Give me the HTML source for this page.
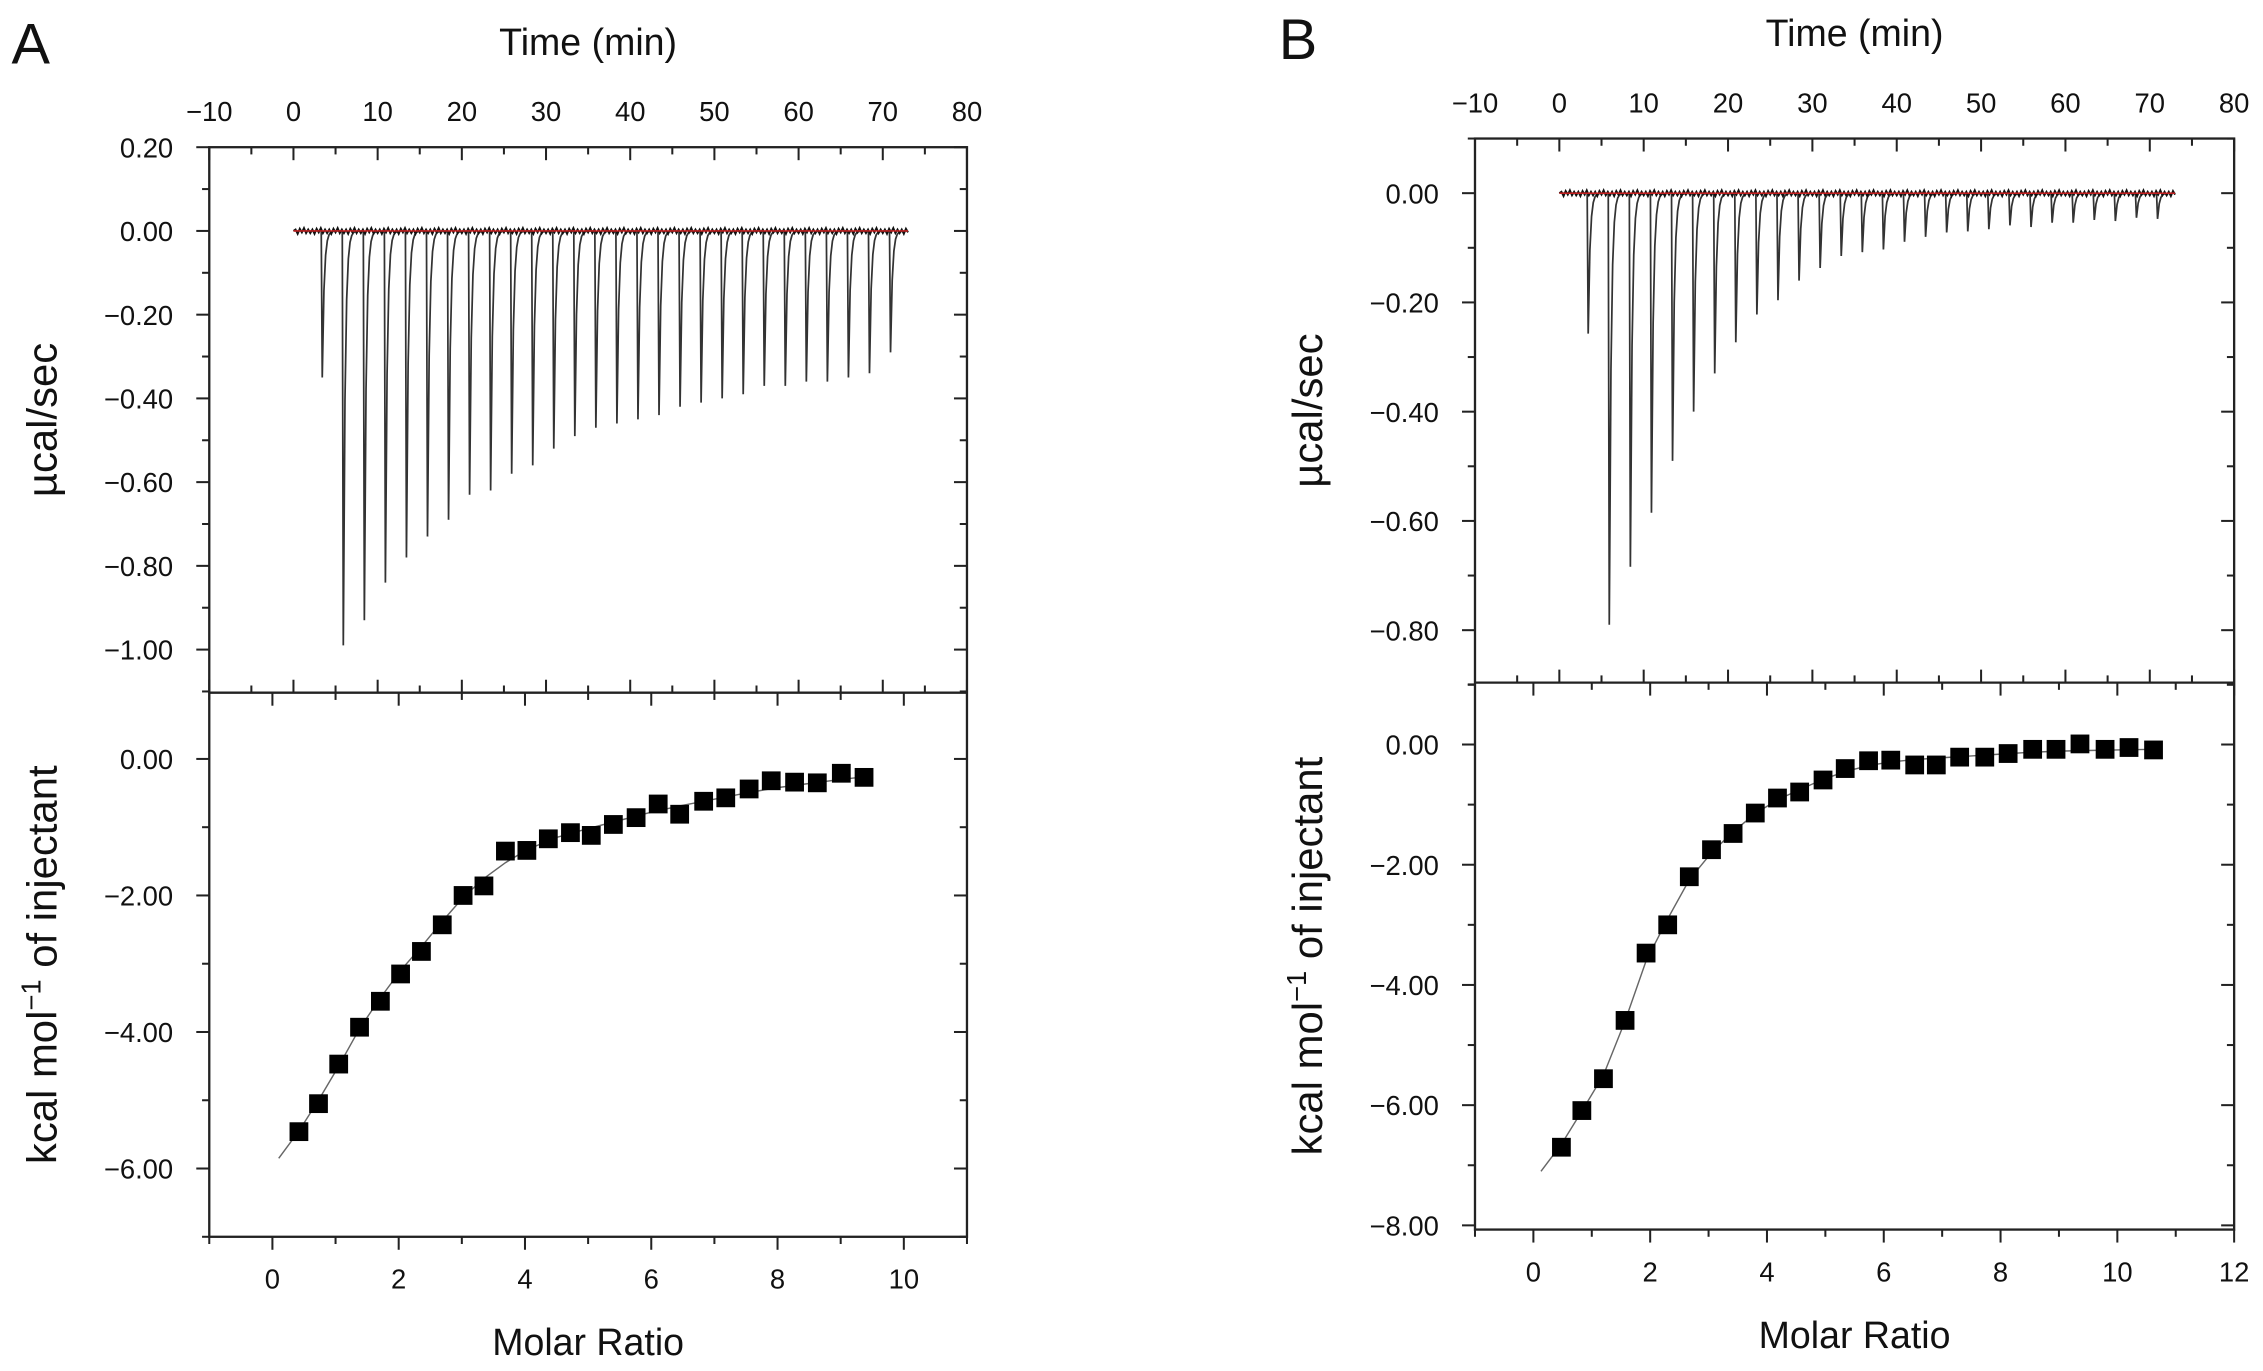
<!DOCTYPE html>
<html><head><meta charset="utf-8"><style>
html,body{margin:0;padding:0;background:#fff;}
svg{display:block;}
text{font-family:"Liberation Sans",Arial,sans-serif;fill:#111;}
</style></head><body>
<svg id="fig" width="2263" height="1371" viewBox="0 0 1568 950" preserveAspectRatio="none" xmlns="http://www.w3.org/2000/svg">
<text x="8" y="44" font-size="40">A</text>
<text x="886" y="41" font-size="40">B</text>
</svg>
<script>
// ---------- DATA ----------
const A_injTimes = [3.3,5.8,8.3,10.8,13.3,15.8,18.3,20.8,23.3,25.8,28.3,30.8,33.3,35.8,38.3,40.8,43.3,45.8,48.3,50.8,53.3,55.8,58.3,60.8,63.3,65.8,68.3,70.8];
const A_peaks = [-0.35,-0.99,-0.93,-0.84,-0.78,-0.73,-0.69,-0.63,-0.62,-0.58,-0.56,-0.52,-0.49,-0.47,-0.46,-0.45,-0.44,-0.42,-0.41,-0.40,-0.39,-0.37,-0.37,-0.36,-0.36,-0.35,-0.34,-0.29];
const A_ratio = [0.42,0.73,1.05,1.38,1.71,2.03,2.36,2.69,3.02,3.35,3.69,4.03,4.37,4.72,5.05,5.40,5.76,6.11,6.45,6.83,7.18,7.55,7.90,8.27,8.63,9.01,9.37];
const A_heat = [-5.46,-5.05,-4.47,-3.93,-3.55,-3.15,-2.82,-2.43,-2.0,-1.86,-1.35,-1.34,-1.17,-1.08,-1.12,-0.96,-0.86,-0.66,-0.81,-0.62,-0.57,-0.44,-0.32,-0.34,-0.35,-0.21,-0.27];
const A_fitX = [0.1,0.42,0.73,1.05,1.38,1.71,2.03,2.36,2.69,3.02,3.35,3.69,4.03,4.5,5,5.5,6,6.5,7,7.5,8,8.5,9,9.4];
const A_fitY = [-5.85,-5.45,-5.0,-4.5,-3.95,-3.5,-3.1,-2.75,-2.38,-2.03,-1.75,-1.52,-1.33,-1.15,-1.02,-0.90,-0.78,-0.68,-0.59,-0.50,-0.42,-0.36,-0.30,-0.26];

const B_injTimes = [3.3,5.8,8.3,10.8,13.3,15.8,18.3,20.8,23.3,25.8,28.3,30.8,33.3,35.8,38.3,40.8,43.3,45.8,48.3,50.8,53.3,55.8,58.3,60.8,63.3,65.8,68.3,70.8];
const B_peaks = [-0.257,-0.79,-0.684,-0.585,-0.49,-0.40,-0.33,-0.273,-0.222,-0.196,-0.16,-0.137,-0.115,-0.108,-0.103,-0.089,-0.08,-0.072,-0.07,-0.066,-0.059,-0.062,-0.054,-0.054,-0.049,-0.051,-0.045,-0.047];
const B_ratio = [0.48,0.83,1.20,1.57,1.93,2.30,2.67,3.05,3.42,3.80,4.18,4.56,4.96,5.34,5.74,6.12,6.53,6.90,7.30,7.73,8.13,8.55,8.95,9.36,9.79,10.2,10.62];
const B_heat = [-6.70,-6.09,-5.56,-4.59,-3.47,-3.0,-2.20,-1.75,-1.48,-1.14,-0.89,-0.79,-0.59,-0.40,-0.27,-0.26,-0.34,-0.34,-0.21,-0.21,-0.15,-0.08,-0.08,0.01,-0.08,-0.05,-0.09];
const B_fitX = [0.13,0.48,0.83,1.2,1.57,1.93,2.3,2.67,3.05,3.42,3.8,4.18,4.56,4.96,5.34,5.74,6.12,6.53,7,7.5,8,8.5,9,9.5,10,10.62];
const B_fitY = [-7.1,-6.65,-6.1,-5.5,-4.6,-3.6,-2.9,-2.25,-1.8,-1.45,-1.15,-0.92,-0.75,-0.58,-0.45,-0.35,-0.29,-0.25,-0.22,-0.19,-0.16,-0.13,-0.11,-0.10,-0.09,-0.08];

const timeTicks = [-10,0,10,20,30,40,50,60,70,80];
const A_powerTicks = [0.20,0.00,-0.20,-0.40,-0.60,-0.80,-1.00];
const B_powerTicks = [0.00,-0.20,-0.40,-0.60,-0.80];
const A_heatTicks = [0,-2,-4,-6];
const B_heatTicks = [0,-2,-4,-6,-8];
const A_ratioTicks = [0,2,4,6,8,10];
const B_ratioTicks = [0,2,4,6,8,10,12];

// ---------- DRAW ----------
const NS = "http://www.w3.org/2000/svg";
const svg = document.getElementById('fig');
function mk(tag, attrs, parent){ const e=document.createElementNS(NS,tag); for(const k in attrs) e.setAttribute(k,attrs[k]); (parent||svg).appendChild(e); return e; }
function lin(d0,d1,r0,r1){ return v => r0 + (v-d0)/(d1-d0)*(r1-r0); }
function fmt(v){ const s=Math.abs(v).toFixed(2); return (v<-1e-9?'\u2212':'')+s; }

function panel(p){
  const g = mk('g',{});
  
  
  const L=p.L,R=p.R,T=p.T,M=p.M,B=p.B;
  const tx = lin(-10,80,L,R);
  const py = lin(p.pMax,p.pMin,T,M);
  const mx = lin(-1,p.mMax,L,R);
  const hy = lin(p.hMax,p.hMin,M,B);
  const fr = mk('rect',{x:L,y:T,width:R-L,height:B-T,fill:'none',stroke:'#222','stroke-width':1.6},g);
  
  
  mk('line',{x1:L,y1:M,x2:R,y2:M,stroke:'#222','stroke-width':1.6},g);
  for(let t=-10;t<=80;t+=5){
    const x=tx(t), len=(t%10===0)?9:5;
    mk('line',{x1:x,y1:T,x2:x,y2:T+len,stroke:'#222','stroke-width':1.4},g);
    mk('line',{x1:x,y1:M,x2:x,y2:M-len,stroke:'#222','stroke-width':1.4},g);
  }
  timeTicks.forEach(t=>{
    const e=mk('text',{x:tx(t),y:T-18,'font-size':19,'text-anchor':'middle'},g); e.textContent=(t<0?'\u2212':'')+Math.abs(t);
     
  });
  for(let k=Math.round(p.pMax*10);k>=Math.round(p.pMin*10);k--){
    const v=k/10, y=py(v), len=(k%2===0)?9:5;
    mk('line',{x1:L-len,y1:y,x2:L,y2:y,stroke:'#222','stroke-width':1.4},g);
    mk('line',{x1:R-len,y1:y,x2:R,y2:y,stroke:'#222','stroke-width':1.4},g);
  }
  p.pTicks.forEach(v=>{
    const e=mk('text',{x:L-25,y:py(v)+7,'font-size':19,'text-anchor':'end'},g); e.textContent=fmt(v);
     
  });
  for(let v=Math.ceil(p.hMin);v<=Math.floor(p.hMax);v++){
    const y=hy(v), len=(v%2===0)?9:5;
    mk('line',{x1:L-len,y1:y,x2:L,y2:y,stroke:'#222','stroke-width':1.4},g);
    mk('line',{x1:R-len,y1:y,x2:R,y2:y,stroke:'#222','stroke-width':1.4},g);
  }
  p.hTicks.forEach(v=>{
    const e=mk('text',{x:L-25,y:hy(v)+7,'font-size':19,'text-anchor':'end'},g); e.textContent=fmt(v);
     
  });
  for(let r=-1;r<=p.mMax;r++){
    const x=mx(r), len=(r%2===0)?9:5;
    mk('line',{x1:x,y1:M,x2:x,y2:M+len,stroke:'#222','stroke-width':1.4},g);
    mk('line',{x1:x,y1:B,x2:x,y2:B+len,stroke:'#222','stroke-width':1.4},g);
  }
  p.rTicks.forEach(r=>{
    const e=mk('text',{x:mx(r),y:B+36,'font-size':19,'text-anchor':'middle'},g); e.textContent=r;
     
  });
  const cx=(L+R)/2;
  let e=mk('text',{x:cx,y:T-64,'font-size':26,'text-anchor':'middle'},g); e.textContent='Time (min)';
   
  e=mk('text',{x:cx,y:B+82,'font-size':26,'text-anchor':'middle'},g); e.textContent='Molar Ratio';
   
  const yl1=(T+M)/2, yl2=(M+B)/2, ax=L-106;
  e=mk('text',{x:ax,y:yl1,'font-size':29,'text-anchor':'middle',transform:`rotate(-90 ${ax} ${yl1})`},g); e.textContent='\u00b5cal/sec';
   
  e=mk('text',{x:ax,y:yl2,'font-size':29,'text-anchor':'middle',transform:`rotate(-90 ${ax} ${yl2})`},g);
  e.innerHTML='kcal mol<tspan font-size="19" dy="-11">\u22121</tspan><tspan dy="11"> of injectant</tspan>';
   
  let d=`M${tx(0)},${py(0)}`;
  p.times.forEach((t,i)=>{
    const pk=p.peaks[i];
    d+=` L${tx(t)},${py(0)} L${tx(t+0.12)},${py(pk)}`;
    for(let s=1;s<=8;s++){ const tt=t+0.12+s*0.2; d+=` L${tx(tt)},${py(pk*Math.exp(-s*0.9))}`; }
  });
  d+=` L${tx(p.tEnd)},${py(0)}`;
  const thermo=mk('path',{d:d,fill:'none',stroke:'#333','stroke-width':1.2},g);
   
  // noisy baseline (decorative zigzag)
  let nd=`M${tx(0)},${py(0)}`;
  const wig=[1.5,-1,2,-1.5,1,-2,1.5,-1];
  for(let k=1,t=0.25;t<=p.tEnd;t+=0.25,k++){ nd+=` L${tx(t)},${py(0)+wig[k%8]}`; }
  const bl=mk('path',{d:nd,fill:'none',stroke:'#111','stroke-width':1.3},g);
   
  const red=mk('line',{x1:tx(0),y1:py(0),x2:tx(p.tEnd),y2:py(0),stroke:'#d22','stroke-width':0.9},g);
   
  const fd=p.fitX.map((x,i)=>(i?'L':'M')+mx(x)+','+hy(p.fitY[i])).join(' ');
  const fit=mk('path',{d:fd,fill:'none',stroke:'#666','stroke-width':1},g);
   
  p.ratio.forEach((r,i)=>{
    const s=mk('rect',{x:mx(r)-6.5,y:hy(p.heat[i])-6.5,width:13,height:13,fill:'#000'},g);
     
  });
}
panel({id:'a',L:145,R:670,T:102,M:480,B:857,pMax:0.2,pMin:-1.103,hMax:0.97,hMin:-7.0,mMax:11,
  pTicks:A_powerTicks,hTicks:A_heatTicks,rTicks:A_ratioTicks,times:A_injTimes,peaks:A_peaks,tEnd:73,
  ratio:A_ratio,heat:A_heat,fitX:A_fitX,fitY:A_fitY});
panel({id:'b',L:1022,R:1548,T:96,M:473,B:852,pMax:0.1,pMin:-0.896,hMax:1.03,hMin:-8.07,mMax:12,
  pTicks:B_powerTicks,hTicks:B_heatTicks,rTicks:B_ratioTicks,times:B_injTimes,peaks:B_peaks,tEnd:73,
  ratio:B_ratio,heat:B_heat,fitX:B_fitX,fitY:B_fitY});
</script>
</body></html>
